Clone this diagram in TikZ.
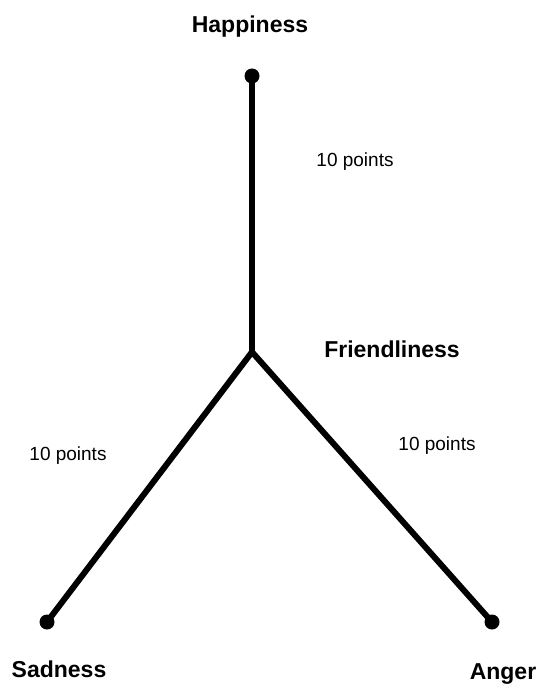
\documentclass[tikz,border=0pt]{standalone}
\usepackage{fontspec}
\setmainfont{Liberation Sans}
\usetikzlibrary{positioning}
\begin{document}
\begin{tikzpicture}[x=1pt, y=-1pt,
dot/.style={circle, fill, inner sep=0pt, minimum size=15pt},
edge/.style={line width=6pt},
emo/.style={font=\bfseries\fontsize{23}{26}\selectfont, anchor=base, inner sep=0pt},
pts/.style={font=\fontsize{19}{22}\selectfont, anchor=base, inner sep=0pt}
]
\useasboundingbox (0,0) rectangle (541,684);

\node[dot] (hap) at (252,76) {};
\coordinate (fri) at (252,352);
\node[dot] (sad) at (47,622) {};
\node[dot] (ang) at (492,622) {};

\draw[edge] (hap.center) -- (fri);
\draw[edge] (fri) -- (sad.center);
\draw[edge] (fri) -- (ang.center);

% labels
\node[emo] (haplbl) at (250,33) {Happiness};
\node[emo] (frilbl) at (392,357) {Friendliness};
\node[emo] (sadlbl) at (59,677) {Sadness};
\node[emo] (anglbl) at (503,679) {Anger};

\node[pts] (ptsup) at (355,167) {10 points};
\node[pts] (ptsleft) at (68,460) {10 points};
\node[pts] (ptsright) at (437,450) {10 points};
\end{tikzpicture}
\end{document}
